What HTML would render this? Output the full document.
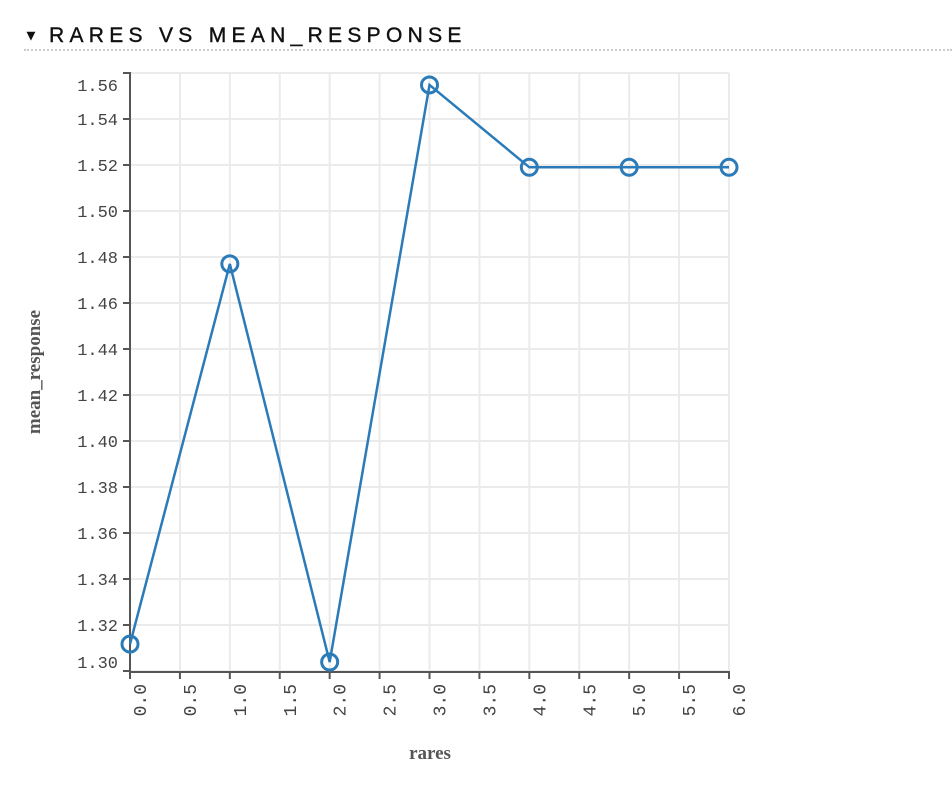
<!DOCTYPE html>
<html><head><meta charset="utf-8"><style>
body{margin:0;background:#fff;width:952px;height:796px;overflow:hidden}
.hdr{position:absolute;left:24px;top:24px;font-family:"Liberation Sans",sans-serif;font-size:21px;letter-spacing:5.3px;color:#111;-webkit-text-stroke:0.4px #111}
.rule{position:absolute;left:24px;top:49px;width:928px;border-top:2px dotted #ccc}
</style></head><body>
<div class="hdr"><span style="font-size:14px;letter-spacing:0;position:relative;top:-2px">&#9660;</span> RARES VS MEAN_RESPONSE</div>
<div class="rule"></div>
<svg id="chart" width="952" height="796" style="position:absolute;left:0;top:0"></svg>
<script>
const xValues=[0,1,2,3,4,5,6];
const yValues=[1.3117,1.477,1.3039,1.5548,1.519,1.519,1.519];
const xTicks=[0,0.5,1,1.5,2,2.5,3,3.5,4,4.5,5,5.5,6];
const yTicks=[1.30,1.32,1.34,1.36,1.38,1.40,1.42,1.44,1.46,1.48,1.50,1.52,1.54,1.56];
const svg=document.getElementById('chart');const NS='http://www.w3.org/2000/svg';
const X0=130,X1=729,Y0=671,Y1=73;
const xs=v=>X0+(v-0)/(6-0)*(X1-X0);
const ys=v=>Y0-(v-1.30)/(0.26)*(Y0-Y1);
function mk(t,a,p){const e=document.createElementNS(NS,t);for(const k in a)e.setAttribute(k,a[k]);(p||svg).appendChild(e);return e;}
xTicks.forEach(t=>{const l=mk('line',{x1:xs(t),x2:xs(t),y1:Y1,y2:Y0,stroke:'#ebebeb','stroke-width':2});

});
yTicks.forEach(t=>{const l=mk('line',{x1:X0,x2:X1,y1:ys(t),y2:ys(t),stroke:'#ebebeb','stroke-width':2});

});
const ax=mk('path',{d:`M${X0-7},${Y1}H${X0}V${Y0+1}H${X1}V${Y0+8}`,fill:'none',stroke:'#555','stroke-width':2});


yTicks.forEach((t,i)=>{const y=ys(t);mk('line',{x1:X0-7,x2:X0,y1:y,y2:y,stroke:'#555','stroke-width':2});
let ly=y+6;if(i==0)ly-=9;if(i==yTicks.length-1)ly+=12;
const tx=mk('text',{x:X0-12,y:ly,'text-anchor':'end','font-family':'Liberation Mono,monospace','font-size':17,fill:'#444'});tx.textContent=t.toFixed(2);

});
xTicks.forEach(t=>{const x=xs(t);mk('line',{x1:x,x2:x,y1:Y0,y2:Y0+8,stroke:'#555','stroke-width':2});
const tx=mk('text',{x:0,y:0,transform:`translate(${x+16},${Y0+13}) rotate(-90)`,'text-anchor':'end','font-family':'Liberation Mono,monospace','font-size':18,fill:'#444'});tx.textContent=t.toFixed(1);

});
const pl=mk('polyline',{points:xValues.map((v,i)=>xs(v)+','+ys(yValues[i])).join(' '),fill:'none',stroke:'#2b7bb9','stroke-width':2.5});


xValues.forEach((v,i)=>{const c=mk('circle',{cx:xs(v),cy:ys(yValues[i]),r:8,fill:'none',stroke:'#2b7bb9','stroke-width':3});

});
const xt=mk('text',{x:430,y:759,'text-anchor':'middle','font-family':'Liberation Serif,serif','font-size':19,'font-weight':'bold',fill:'#555'});xt.textContent='rares';


const yt=mk('text',{x:0,y:0,transform:'translate(40,372) rotate(-90)','text-anchor':'middle','font-family':'Liberation Serif,serif','font-size':19,'font-weight':'bold',fill:'#555'});yt.textContent='mean_response';


</script>
</body></html>
